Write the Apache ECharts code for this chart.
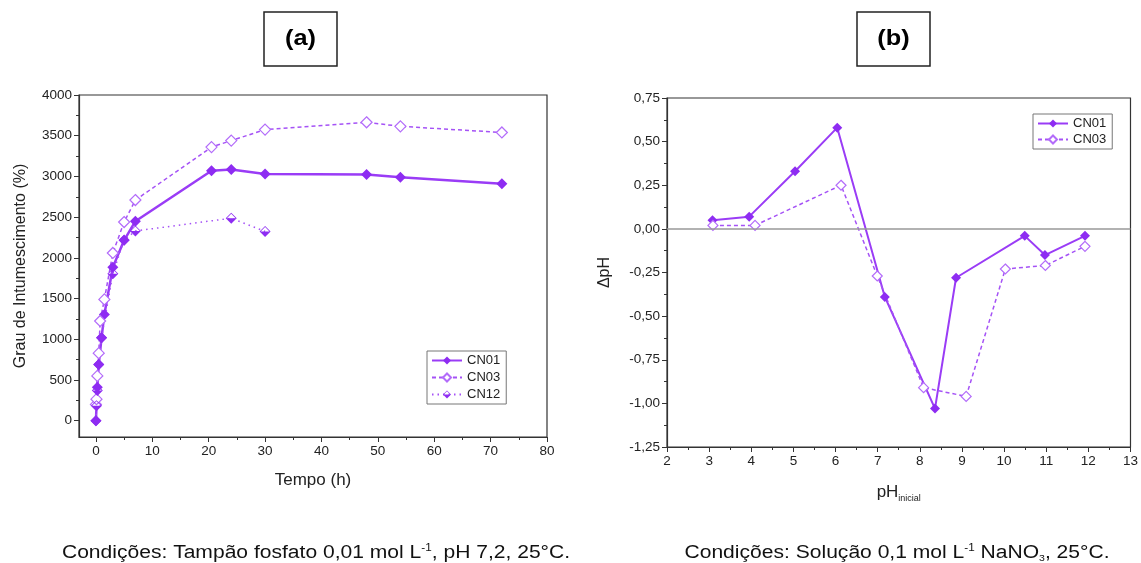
<!DOCTYPE html>
<html><head><meta charset="utf-8">
<script src="https://cdn.jsdelivr.net/npm/echarts@6/dist/echarts.min.js"></script>
<style>html,body{margin:0;padding:0;background:#fff}#c{width:1141px;height:563px}</style>
</head><body><div id="c"></div>
<script>
// ---- Chart (a): swelling vs time ----
const tCN01 = [0, 0.25, 0.5, 1, 1.5, 3, 5, 7, 20.5, 24, 30, 48, 54, 72];
const vCN01 = [0, 410, 690, 1020, 1305, 1885, 2215, 2450, 3070, 3085, 3030, 3025, 2990, 2910];
const tCN03 = [0, 0.1, 0.25, 0.5, 0.75, 1.5, 3, 5, 7, 20.5, 24, 30, 48, 54, 72];
const vCN03 = [200, 265, 550, 830, 1225, 1490, 2060, 2440, 2710, 3360, 3440, 3575, 3665, 3615, 3540];
const tCN12 = [0, 0.1, 0.25, 0.5, 1, 3, 5, 7, 24, 30];
const vCN12 = [0, 185, 370, 690, 1020, 1805, 2220, 2330, 2487, 2324];
const xTicksA = [0, 10, 20, 30, 40, 50, 60, 70, 80];
const xMinorA = [5, 15, 25, 35, 45, 55, 65, 75];
const yTicksA = [0, 500, 1000, 1500, 2000, 2500, 3000, 3500, 4000];
const yMinorA = [250, 750, 1250, 1750, 2250, 2750, 3250, 3750];
// ---- Chart (b): delta pH vs initial pH ----
const pHCN01 = [3.08, 3.95, 5.04, 6.04, 7.17, 8.36, 8.86, 10.49, 10.97, 11.92];
const dCN01 = [0.05, 0.07, 0.33, 0.58, -0.39, -1.03, -0.28, -0.04, -0.15, -0.04];
const pHCN03 = [3.09, 4.09, 6.13, 6.99, 8.09, 9.10, 10.03, 10.98, 11.92];
const dCN03 = [0.02, 0.02, 0.25, -0.27, -0.91, -0.96, -0.23, -0.21, -0.10];

const zip = (a, b) => a.map((x, i) => [x, b[i]]);
const C1 = '#8e2cf2', C1L = '#9a3cf6', C3 = '#b36cfa', C3L = '#a552f6';
const FONT = 'Liberation Sans, Arial, sans-serif';
const halfDiamond = 'path://M0,-10L10,0L0,10L-10,0Z M0,-8L-8,0L0,8L8,0Z M-9,0L9,0L0,9Z';
const axisCol = '#333';
const lbl = {fontSize: 13.5, color: '#222', fontFamily: FONT, margin: 7};
const plain = v => String(v);

const chart = echarts.init(document.getElementById('c'));
const gA = {left: 79, top: 95, width: 468, height: 342, show: true, borderColor: axisCol, borderWidth: 1.2};
const gB = {left: 667, top: 98, width: 469, height: 349, show: true, borderColor: axisCol, borderWidth: 1.2};
const line = {onZero: false, lineStyle: {color: axisCol, width: 1.2}};
chart.setOption({
  animation: false,
  textStyle: {fontFamily: FONT},
  grid: [gA, Object.assign({}, gA, {show: false}), gB],
  xAxis: [
    {gridIndex: 0, type: 'value', min: -3, max: 80, axisLine: line,
     axisTick: {customValues: xTicksA, length: 5, lineStyle: {color: axisCol}},
     axisLabel: Object.assign({customValues: xTicksA, formatter: plain}, lbl),
     splitLine: {show: false},
     name: 'Tempo (h)', nameLocation: 'middle', nameGap: 35,
     nameTextStyle: {fontSize: 17, color: '#222', fontFamily: FONT}},
    {gridIndex: 1, type: 'value', min: -3, max: 80,
     axisLine: {show: false, onZero: false},
     axisTick: {customValues: xMinorA, length: 3, lineStyle: {color: axisCol}},
     axisLabel: {show: false}, splitLine: {show: false}},
    {gridIndex: 2, type: 'value', min: 2, max: 13, interval: 1, axisLine: line,
     axisTick: {length: 5, lineStyle: {color: axisCol}},
     minorTick: {show: true, splitNumber: 2, length: 3, lineStyle: {color: axisCol}},
     axisLabel: Object.assign({formatter: plain}, lbl), splitLine: {show: false},
     name: 'pH{sub|inicial}', nameLocation: 'middle', nameGap: 34,
     nameTextStyle: {fontSize: 17, color: '#222', fontFamily: FONT, lineHeight: 22,
       rich: {sub: {fontSize: 9, color: '#222', verticalAlign: 'bottom', lineHeight: 12, fontFamily: FONT}}}}
  ],
  yAxis: [
    {gridIndex: 0, type: 'value', min: -200, max: 4000, axisLine: line,
     axisTick: {customValues: yTicksA, length: 5, lineStyle: {color: axisCol}},
     axisLabel: Object.assign({customValues: yTicksA, formatter: plain}, lbl),
     splitLine: {show: false},
     name: 'Grau de Intumescimento (%)', nameLocation: 'middle', nameGap: 50,
     nameTextStyle: {fontSize: 16, color: '#222', fontFamily: FONT}},
    {gridIndex: 1, type: 'value', min: -200, max: 4000,
     axisLine: {show: false, onZero: false},
     axisTick: {customValues: yMinorA, length: 3, lineStyle: {color: axisCol}},
     axisLabel: {show: false}, splitLine: {show: false}},
    {gridIndex: 2, type: 'value', min: -1.25, max: 0.75, interval: 0.25, axisLine: line,
     axisTick: {length: 5, lineStyle: {color: axisCol}},
     minorTick: {show: true, splitNumber: 2, length: 3, lineStyle: {color: axisCol}},
     axisLabel: Object.assign({formatter: v => v.toFixed(2).replace('.', ',')}, lbl),
     splitLine: {show: false},
     name: '\u0394pH', nameLocation: 'middle', nameGap: 54,
     nameTextStyle: {fontSize: 16, color: '#222', fontFamily: FONT}}
  ],
  legend: [
    {data: ['CN01', 'CN03', 'CN12'], orient: 'vertical', left: 427, top: 351,
     itemWidth: 30, itemHeight: 10, itemGap: 4, padding: [3, 6, 3, 4],
     borderColor: '#777', borderWidth: 1, textStyle: {fontSize: 13, color: '#222', fontFamily: FONT}},
    {data: ['CN01', 'CN03'], orient: 'vertical', left: 1033, top: 114,
     itemWidth: 30, itemHeight: 10, itemGap: 3, padding: [3, 6, 3, 4],
     borderColor: '#777', borderWidth: 1, textStyle: {fontSize: 13, color: '#222', fontFamily: FONT}}
  ],
  series: [
    {name: 'CN01', type: 'line', xAxisIndex: 0, yAxisIndex: 0, data: zip(tCN01, vCN01),
     symbol: 'diamond', symbolSize: 11, lineStyle: {width: 2.5, color: C1L}, itemStyle: {color: C1}},
    {name: 'CN03', type: 'line', xAxisIndex: 0, yAxisIndex: 0, data: zip(tCN03, vCN03),
     symbol: 'diamond', symbolSize: 11, lineStyle: {width: 1.5, color: C3L, type: [4, 3]},
     itemStyle: {color: '#fff', borderColor: C3, borderWidth: 1.2}},
    {name: 'CN12', type: 'line', xAxisIndex: 0, yAxisIndex: 0, data: zip(tCN12, vCN12),
     symbol: halfDiamond, symbolSize: 11, lineStyle: {width: 1.5, color: C3L, type: [1.5, 4]},
     itemStyle: {color: C1}},
    {name: 'CN01', type: 'line', xAxisIndex: 2, yAxisIndex: 2, data: zip(pHCN01, dCN01),
     symbol: 'diamond', symbolSize: 10, lineStyle: {width: 2, color: C1L}, itemStyle: {color: C1},
     markLine: {silent: true, symbol: 'none', label: {show: false},
       lineStyle: {color: '#999', type: 'solid', width: 1.5}, data: [{yAxis: 0}]}},
    {name: 'CN03', type: 'line', xAxisIndex: 2, yAxisIndex: 2, data: zip(pHCN03, dCN03),
     symbol: 'diamond', symbolSize: 10, lineStyle: {width: 1.5, color: C3L, type: [4, 3]},
     itemStyle: {color: '#fff', borderColor: C3, borderWidth: 1.2}}
  ],
  graphic: [
    {type: 'rect', shape: {x: 264, y: 12, width: 73, height: 54}, style: {fill: '#fff', stroke: '#222', lineWidth: 1.5}},
    {type: 'text', x: 300.5, y: 39, scaleX: 1.15, style: {text: '(a)', font: 'bold 22px ' + FONT, fill: '#000', align: 'center', verticalAlign: 'middle'}},
    {type: 'rect', shape: {x: 857, y: 12, width: 73, height: 54}, style: {fill: '#fff', stroke: '#222', lineWidth: 1.5}},
    {type: 'text', x: 893.5, y: 39, scaleX: 1.15, style: {text: '(b)', font: 'bold 22px ' + FONT, fill: '#000', align: 'center', verticalAlign: 'middle'}},
    {type: 'text', x: 316, y: 553, scaleX: 1.17, style: {text: 'Condições: Tampão fosfato 0,01 mol L{sup|-1}, pH 7,2, 25°C.',
      font: '18px ' + FONT, fill: '#111', align: 'center', verticalAlign: 'middle', lineHeight: 20,
      rich: {sup: {fontSize: 10, verticalAlign: 'top', lineHeight: 12, fill: '#111', fontFamily: FONT}}}},
    {type: 'text', x: 897, y: 553, scaleX: 1.17, style: {text: 'Condições: Solução 0,1 mol L{sup|-1} NaNO{sub|3}, 25°C.',
      font: '18px ' + FONT, fill: '#111', align: 'center', verticalAlign: 'middle', lineHeight: 20,
      rich: {sup: {fontSize: 10, verticalAlign: 'top', lineHeight: 12, fill: '#111', fontFamily: FONT},
             sub: {fontSize: 9, verticalAlign: 'bottom', lineHeight: 12, fill: '#111', fontFamily: FONT}}}}
  ]
});
</script></body></html>
